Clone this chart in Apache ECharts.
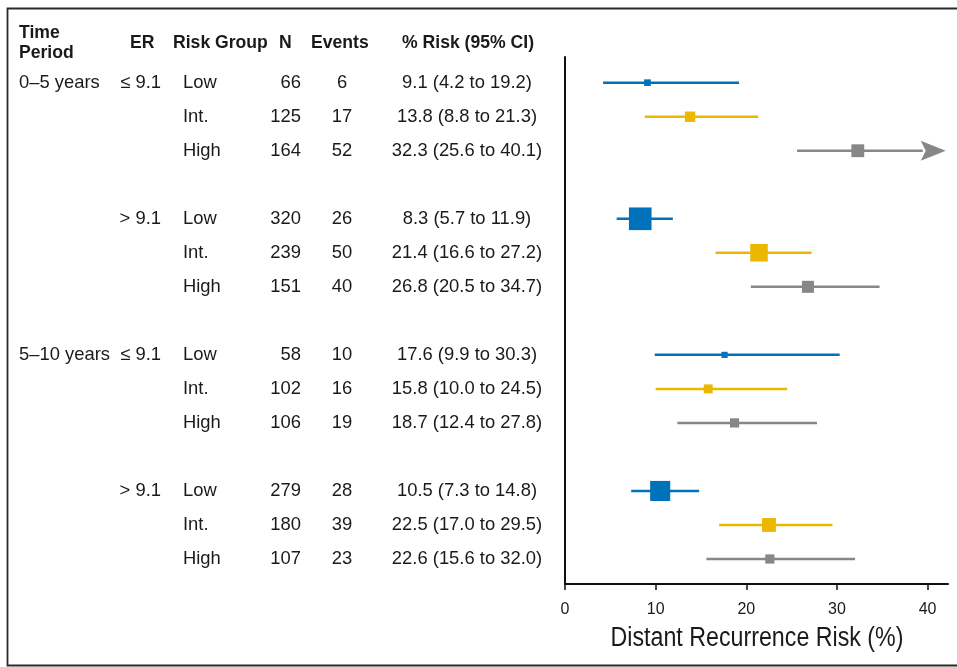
<!DOCTYPE html>
<html>
<head>
<meta charset="utf-8">
<script src="https://cdn.jsdelivr.net/npm/echarts@6/dist/echarts.min.js"></script>
<style>
  html, body { margin: 0; padding: 0; background: #fff; }
  #chart { width: 957px; height: 667px; }
</style>
</head>
<body>
<div id="chart"></div>
<script>
// Distant recurrence risk by time period, ER level and risk group
const periods = ['0–5 years', '5–10 years'];
const erLevels = ['≤ 9.1', '> 9.1'];
const riskGroups = ['Low', 'Int.', 'High'];
const nPatients = [66, 125, 164, 320, 239, 151, 58, 102, 106, 279, 180, 107];
const events = [6, 17, 52, 26, 50, 40, 10, 16, 19, 28, 39, 23];
const riskPct = [9.1, 13.8, 32.3, 8.3, 21.4, 26.8, 17.6, 15.8, 18.7, 10.5, 22.5, 22.6];
const ciLow = [4.2, 8.8, 25.6, 5.7, 16.6, 20.5, 9.9, 10.0, 12.4, 7.3, 17.0, 15.6];
const ciHigh = [19.2, 21.3, 40.1, 11.9, 27.2, 34.7, 30.3, 24.5, 27.8, 14.8, 29.5, 32.0];
const xTicks = [0, 10, 20, 30, 40];
const xTitle = 'Distant Recurrence Risk (%)';

const groupColors = ['#0072BC', '#EBB700', '#878787'];
const TEXT = '#1a1a1a';
const BODY_FONT = 'Liberation Sans, Arial, sans-serif';
const X_MAX = 42.25;
const DISPLAY_LIMIT = 40;

// one slot per row, with an empty slot between each ER block
const rows = nPatients.map((n, i) => {
  const block = Math.floor(i / 3);
  const g = i % 3;
  return {
    slot: block * 4 + g,
    period: g === 0 && block % 2 === 0 ? periods[block / 2] : '',
    er: g === 0 ? erLevels[block % 2] : '',
    group: riskGroups[g],
    colorIdx: g,
    n: n,
    events: events[i],
    est: riskPct[i],
    lo: ciLow[i],
    hi: ciHigh[i]
  };
});

const ciData = rows.map(r => [r.slot, r.lo, r.hi, r.est, r.n, r.colorIdx]);
const tableData = rows.map((r, i) => [r.slot, i]);

function fmt(v) { return v.toFixed(1); }

const chart = echarts.init(document.getElementById('chart'), null, { renderer: 'canvas' });

const headerStyle = { fill: TEXT, font: 'bold 17.6px ' + BODY_FONT, textVerticalAlign: 'middle' };

const option = {
  animation: false,
  backgroundColor: '#fff',
  grid: { left: 565, right: 9, top: 57, bottom: 83 },
  xAxis: {
    type: 'value',
    min: 0,
    max: X_MAX,
    interval: 10,
    axisLine: { onZero: false, lineStyle: { color: '#111', width: 2 } },
    axisTick: { customValues: xTicks, length: 6, lineStyle: { color: '#111', width: 1.5 } },
    axisLabel: { customValues: xTicks, fontSize: 16, color: TEXT, margin: 18, fontFamily: BODY_FONT },
    splitLine: { show: false }
  },
  yAxis: {
    type: 'value',
    inverse: true,
    min: -0.755,
    max: 14.735,
    axisLine: { show: true, onZero: false, lineStyle: { color: '#111', width: 2 } },
    axisTick: { show: false },
    axisLabel: { show: false },
    splitLine: { show: false }
  },
  graphic: [
    { type: 'rect', silent: true, shape: { x: 7.5, y: 8.5, width: 1000, height: 657 },
      style: { fill: 'none', stroke: '#2a2a2a', lineWidth: 1.8 } },
    { type: 'text', left: 19, top: 24, style: Object.assign({ text: 'Time' }, headerStyle) },
    { type: 'text', left: 19, top: 44, style: Object.assign({ text: 'Period' }, headerStyle) },
    { type: 'text', left: 130, top: 34, style: Object.assign({ text: 'ER' }, headerStyle) },
    { type: 'text', left: 173, top: 34, style: Object.assign({ text: 'Risk Group' }, headerStyle) },
    { type: 'text', left: 279, top: 34, style: Object.assign({ text: 'N' }, headerStyle) },
    { type: 'text', left: 311, top: 34, style: Object.assign({ text: 'Events' }, headerStyle) },
    { type: 'text', left: 402, top: 34, style: Object.assign({ text: '% Risk (95% CI)' }, headerStyle) },
    {
      // condensed axis title under the plot
      type: 'text', silent: true,
      x: 757, y: 639, scaleX: 0.86, scaleY: 1,
      style: { text: xTitle, fill: TEXT, font: '27px ' + BODY_FONT, textAlign: 'center', textVerticalAlign: 'middle' }
    }
  ],
  series: [
    {
      // table columns to the left of the plot
      type: 'custom',
      clip: false,
      silent: true,
      data: tableData,
      encode: { y: 0 },
      renderItem: function (params, api) {
        const r = rows[api.value(1)];
        const y = api.coord([0, api.value(0)])[1];
        const base = { fill: TEXT, fontFamily: BODY_FONT, fontSize: 18.4, verticalAlign: 'middle' };
        const cell = (text, x, align) => ({
          type: 'text',
          style: Object.assign({ text: text, x: x, y: y, align: align }, base)
        });
        return {
          type: 'group',
          children: [
            cell(r.period, 19, 'left'),
            cell(r.er, 161, 'right'),
            cell(r.group, 183, 'left'),
            cell(String(r.n), 301, 'right'),
            cell(String(r.events), 342, 'center'),
            cell(fmt(r.est) + ' (' + fmt(r.lo) + ' to ' + fmt(r.hi) + ')', 467, 'center')
          ]
        };
      }
    },
    {
      // confidence intervals with size-weighted point estimates
      type: 'custom',
      clip: false,
      silent: true,
      data: ciData,
      encode: { x: [1, 2, 3], y: 0 },
      renderItem: function (params, api) {
        const slot = api.value(0);
        const lo = api.value(1);
        const hi = api.value(2);
        const est = api.value(3);
        const n = api.value(4);
        const color = groupColors[api.value(5)];
        const pLo = api.coord([lo, slot]);
        const pEst = api.coord([est, slot]);
        const truncated = hi > DISPLAY_LIMIT;
        const children = [];
        const side = 2.5 + 0.063 * n;
        if (truncated) {
          const tip = api.coord([42, slot]);
          const headLen = 25, headHalf = 10;
          children.push({
            type: 'line',
            shape: { x1: pLo[0], y1: pLo[1], x2: tip[0] - headLen + 2, y2: tip[1] },
            style: { stroke: color, lineWidth: 2.5 }
          });
          children.push({
            type: 'polygon',
            shape: { points: [[tip[0], tip[1]], [tip[0] - headLen, tip[1] - headHalf], [tip[0] - headLen + 5, tip[1]], [tip[0] - headLen, tip[1] + headHalf]] },
            style: { fill: color }
          });
        } else {
          const pHi = api.coord([hi, slot]);
          children.push({
            type: 'line',
            shape: { x1: pLo[0], y1: pLo[1], x2: pHi[0], y2: pHi[1] },
            style: { stroke: color, lineWidth: 2.5 }
          });
        }
        children.push({
          type: 'rect',
          shape: { x: pEst[0] - side / 2, y: pEst[1] - side / 2, width: side, height: side },
          style: { fill: color }
        });
        return { type: 'group', children: children };
      }
    }
  ]
};

chart.setOption(option);
</script>
</body>
</html>
